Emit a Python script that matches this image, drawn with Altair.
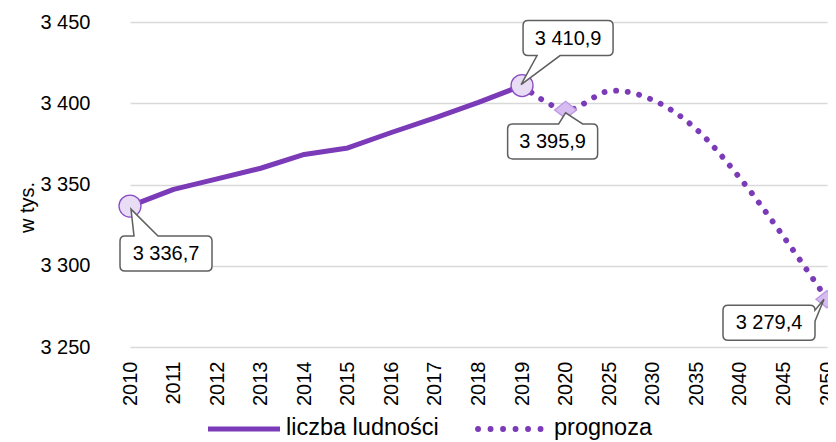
import altair as alt
import pandas as pd

# ---------------- data ----------------
hist_years = ["2010", "2011", "2012", "2013", "2014", "2015", "2016", "2017", "2018", "2019"]
hist_values = [3336.7, 3347.0, 3353.5, 3360.0, 3368.5, 3372.5, 3382.0, 3391.0, 3400.5, 3410.9]
fore_years = ["2019", "2020", "2025", "2030", "2035", "2040", "2045", "2050"]
fore_values = [3410.9, 3395.9, 3407.5, 3402.0, 3384.0, 3354.0, 3318.0, 3279.4]
series_names = ["liczba ludności", "prognoza"]
y_ticks = [3250, 3300, 3350, 3400, 3450]
y_title = "w tys."
circle_years = ["2010", "2019"]
diamond_years = ["2020", "2050"]
callout_years = ["2010", "2019", "2020", "2050"]

all_years = hist_years + fore_years[1:]
lookup = dict(zip(hist_years, hist_values))
lookup.update(zip(fore_years, fore_values))

# ---------------- style ----------------
FONT = "Liberation Sans"
PURPLE = "#7B3AB7"
CIRCLE_FILL = "#E8DDF5"
CIRCLE_STROKE = "#8A4CC4"
DIAMOND_FILL = "#D6BCF0"
DIAMOND_STROKE = "#BC96E2"
BOX_STROKE = "#5F5F5F"
W, H = 720, 325

callout_style = {
    "2010": dict(box=(-10, 82, 30, 65), edge="top", base=(4, 28), tip=(1, 3), text=(36, 48)),
    "2019": dict(box=(1, 91, -65, -30), edge="bottom", base=(15, 38), tip=(-1, -1), text=(46, -47)),
    "2020": dict(box=(-58, 32, 14, 49), edge="top", base=(-7, 17), tip=(0, 3), text=(-13, 32)),
    "2050": dict(box=(-104, -12, 6, 41), edge="right", base=(11, 22), tip=(-3, 0), text=(-58, 24)),
}


def callout_path(box, edge, base, tip, r=5):
    L, R, T, B = box
    p1, p2 = base
    tx, ty = tip
    d = f"M {L + r} {T} "
    if edge == "top":
        d += f"L {p1} {T} L {tx} {ty} L {p2} {T} "
    d += f"L {R - r} {T} Q {R} {T} {R} {T + r} "
    if edge == "right":
        d += f"L {R} {p1} L {tx} {ty} L {R} {p2} "
    d += f"L {R} {B - r} Q {R} {B} {R - r} {B} "
    if edge == "bottom":
        d += f"L {p2} {B} L {tx} {ty} L {p1} {B} "
    d += f"L {L + r} {B} Q {L} {B} {L} {B - r} L {L} {T + r} Q {L} {T} {L + r} {T} Z"
    return d


x_enc = alt.X(
    "year:O",
    scale=alt.Scale(type="point", domain=all_years, range=[22, 719], padding=0),
    axis=alt.Axis(
        title=None, labelAngle=-90, labelFontSize=20, labelFont=FONT, labelColor="black",
        labelPadding=14, ticks=False, domain=False, grid=False, labelOverlap=False,
    ),
)
y_enc = alt.Y(
    "value:Q",
    scale=alt.Scale(domain=[3250, 3450], nice=False, zero=False),
    axis=alt.Axis(
        values=y_ticks, title=y_title, titleFontSize=20, titleFont=FONT, titleFontWeight="normal",
        titleColor="black", titleX=-75, titleY=185, titleBaseline="alphabetic", titleAngle=270,
        titleAlign="center",
        labelExpr="replace(format(datum.value, ','), ',', ' ')",
        labelFontSize=20, labelFont=FONT, labelColor="black", labelPadding=18,
        ticks=False, domain=False, grid=True, gridColor="#D9D9D9", gridWidth=1.5,
    ),
)

df_hist = pd.DataFrame({"year": hist_years, "value": hist_values})
df_fore = pd.DataFrame({"year": fore_years, "value": fore_values})

hist_line = alt.Chart(df_hist).mark_line(
    color=PURPLE, strokeWidth=5, strokeJoin="round"
).encode(x=x_enc, y=y_enc)

fore_line = alt.Chart(df_fore).mark_line(
    color=PURPLE, strokeWidth=5.8, strokeDash=[0.1, 11.6], strokeCap="round", interpolate="cardinal"
).encode(x=x_enc, y=y_enc)

df_circ = pd.DataFrame({"year": circle_years, "value": [lookup[y] for y in circle_years]})
df_diam = pd.DataFrame({"year": diamond_years, "value": [lookup[y] for y in diamond_years]})

circles = alt.Chart(df_circ).mark_point(
    shape="circle", size=484, filled=True, fill=CIRCLE_FILL, stroke=CIRCLE_STROKE,
    strokeWidth=1.3, opacity=1, fillOpacity=1, strokeOpacity=1,
).encode(x=x_enc, y=y_enc)

diamonds = alt.Chart(df_diam).mark_point(
    shape="M -1 0 L 0 -0.78 L 1 0 L 0 0.78 Z", size=484, filled=True, fill=DIAMOND_FILL,
    stroke=DIAMOND_STROKE, strokeWidth=1.3, opacity=1, fillOpacity=1, strokeOpacity=1,
).encode(x=x_enc, y=y_enc)

callout_layers = []
for yr in callout_years:
    st = callout_style[yr]
    dfc = pd.DataFrame({"year": [yr], "value": [lookup[yr]]})
    box = alt.Chart(dfc).mark_point(
        shape=callout_path(st["box"], st["edge"], st["base"], st["tip"]), size=4, filled=True,
        fill="white", stroke=BOX_STROKE, strokeWidth=1.5, opacity=1, fillOpacity=1, strokeOpacity=1,
    ).encode(x=x_enc, y=y_enc)
    txt = alt.Chart(dfc).transform_calculate(
        label="replace(replace(format(datum.value, ',.1f'), ',', ' '), '.', ',')"
    ).mark_text(
        dx=st["text"][0], dy=st["text"][1], fontSize=20, font=FONT, color="black",
        align="center", baseline="middle",
    ).encode(x=x_enc, y=y_enc, text="label:N")
    callout_layers += [box, txt]

legend_df = pd.DataFrame({"label": series_names})
LEG_SWATCH_Y, LEG_TEXT_Y = 407, 413
leg_solid = alt.Chart(legend_df).transform_filter(
    alt.datum.label == series_names[0]
).mark_rule(color=PURPLE, strokeWidth=5).encode(
    x=alt.value(100), x2=alt.value(172), y=alt.value(LEG_SWATCH_Y)
)
leg_solid_txt = alt.Chart(legend_df).transform_filter(
    alt.datum.label == series_names[0]
).mark_text(align="left", baseline="alphabetic", fontSize=23.5, font=FONT, color="black").encode(
    x=alt.value(178), y=alt.value(LEG_TEXT_Y), text="label:N"
)
leg_dot = alt.Chart(legend_df).transform_filter(
    alt.datum.label == series_names[1]
).mark_rule(color=PURPLE, strokeWidth=5.8, strokeDash=[0.1, 12.4], strokeCap="round").encode(
    x=alt.value(370), x2=alt.value(433), y=alt.value(LEG_SWATCH_Y)
)
leg_dot_txt = alt.Chart(legend_df).transform_filter(
    alt.datum.label == series_names[1]
).mark_text(align="left", baseline="alphabetic", fontSize=23.5, font=FONT, color="black").encode(
    x=alt.value(446), y=alt.value(LEG_TEXT_Y), text="label:N"
)

chart = alt.layer(
    hist_line, fore_line, circles, diamonds, *callout_layers,
    leg_solid, leg_solid_txt, leg_dot, leg_dot_txt,
).properties(
    width=W, height=H,
    autosize=alt.AutoSizeParams(type="none"),
    padding={"left": 100, "top": 14, "right": 0, "bottom": 95},
    background="white",
).configure_view(stroke=None)

chart.save("out.html", embed_options={"renderer": "svg", "actions": False})
